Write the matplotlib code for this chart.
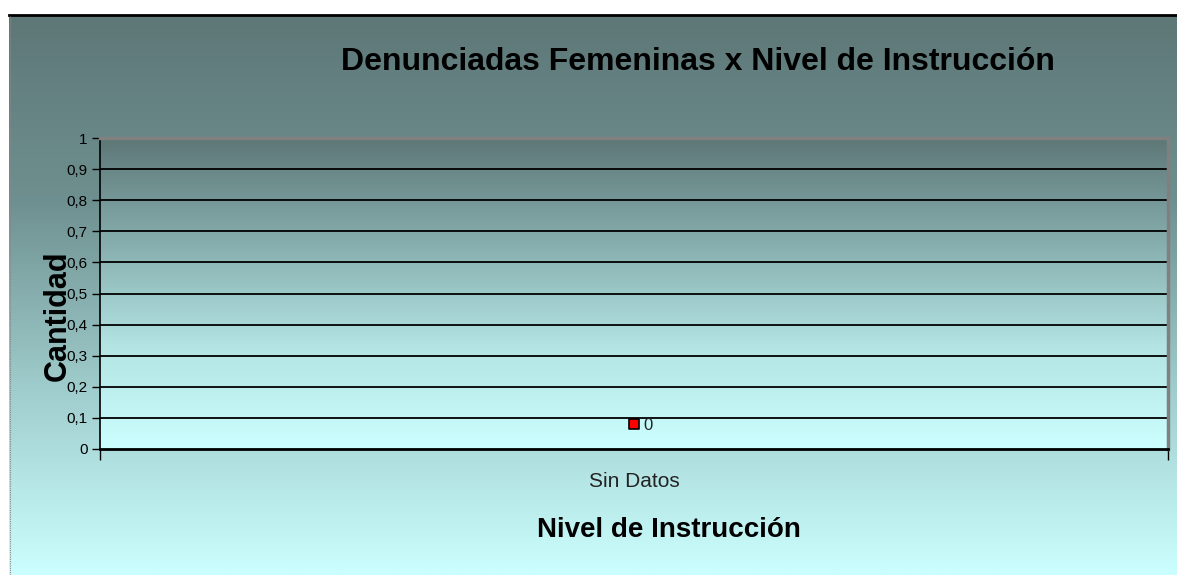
import numpy as np
import matplotlib
matplotlib.use("Agg")
import matplotlib.pyplot as plt
from matplotlib.colors import LinearSegmentedColormap

categories = ["Sin Datos"]
values = [0.08]
value_labels = ["0"]
yticks = [0, 0.1, 0.2, 0.3, 0.4, 0.5, 0.6, 0.7, 0.8, 0.9, 1]
ytick_labels = ["0", "0,1", "0,2", "0,3", "0,4", "0,5", "0,6", "0,7", "0,8", "0,9", "1"]
title = "Denunciadas Femeninas x Nivel de Instrucción"
xlabel = "Nivel de Instrucción"
ylabel = "Cantidad"

font = "Liberation Sans"

W, H = 1177, 575
fig = plt.figure(figsize=(W / 100, H / 100), dpi=100)
fig.patch.set_facecolor("white")

top_c = "#5e7777"
bot_c = "#ccffff"
cmap_fig = LinearSegmentedColormap.from_list("f", [top_c, "#6f9090", "#9fcccc", bot_c])
cmap_plot = LinearSegmentedColormap.from_list("p", [top_c, "#86adad", "#b3e3e3", bot_c])

bg = fig.add_axes([9 / W, 0, 1 - 9 / W, 1 - 15 / H])
grad = np.linspace(0, 1, 256).reshape(-1, 1)
bg.imshow(grad, aspect="auto", cmap=cmap_fig, extent=[0, 1, 0, 1], origin="upper")
bg.set_xlim(0, 1); bg.set_ylim(0, 1)
bg.axis("off")
fig.add_artist(plt.Line2D([9 / W, 1], [1 - 14.5 / H] * 2, color="black", lw=2, transform=fig.transFigure))
fig.add_artist(plt.Line2D([9.5 / W] * 2, [0, 1 - 15 / H], color="#888888", lw=0.8, ls=(0, (1, 1)), transform=fig.transFigure))

x0, x1 = 100, 1168
y_top, y_bot = 138, 449
ax = fig.add_axes([x0 / W, 1 - y_bot / H, (x1 - x0) / W, (y_bot - y_top) / H])
ax.set_xlim(0, 1)
ax.set_ylim(0, 1)
ax.imshow(grad, aspect="auto", cmap=cmap_plot, extent=[0, 1, 0, 1], origin="upper", zorder=0)

for t in yticks[1:-1]:
    ax.axhline(t, color="black", lw=1.3, zorder=1)

xpos = [(i + 0.5) / len(categories) for i in range(len(categories))]
ax.scatter(xpos, values, marker="s", s=45, facecolor="#ff0000", edgecolor="black", linewidths=1.2, zorder=3)
for xp, v, lab in zip(xpos, values, value_labels):
    ax.annotate(lab, (xp, v), xytext=(7, -1), textcoords="offset points", fontsize=12,
                family=font, color="#222222", va="center", ha="left")

for s in ["top", "right"]:
    ax.spines[s].set_color("#808080")
    ax.spines[s].set_linewidth(2.5)
ax.spines["left"].set_color("black")
ax.spines["bottom"].set_color("black")
ax.spines["left"].set_linewidth(1.2)
ax.spines["bottom"].set_linewidth(2)

ax.set_yticks(yticks)
ax.set_yticklabels(ytick_labels, family=font, fontsize=11)
ax.tick_params(axis="y", length=6, width=1, pad=3)
ax.set_xticks([0, 1])
ax.set_xticklabels([])
ax.tick_params(axis="x", length=8, width=1, direction="out")
for xp, c in zip(xpos, categories):
    ax.text(xp, -0.105, c, transform=ax.transAxes, ha="center", va="center",
            family=font, fontsize=15, color="#222222")

fig.text(698 / W, 1 - 62 / H, title, ha="center", va="center", family=font,
         fontweight="bold", fontsize=23, color="black")
fig.text(669 / W, 1 - 530 / H, xlabel, ha="center", va="center", family=font,
         fontweight="bold", fontsize=20, color="black")
fig.text(58 / W, 1 - 316 / H, ylabel, ha="center", va="center", family=font,
         fontweight="bold", fontsize=22, color="black", rotation=90)

fig.savefig("out.png", dpi=100)
